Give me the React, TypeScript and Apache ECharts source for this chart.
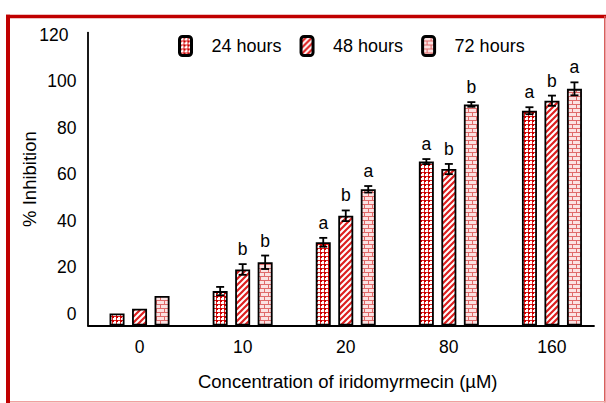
import React, { useEffect, useRef } from 'react';
import * as echarts from 'echarts';

// ---- data (bar heights in axis units; axis zero sits on the drawn baseline) ----
const categories = ['0', '10', '20', '80', '160'];
const seriesNames = ['24 hours', '48 hours', '72 hours'];
const values24 = [5.2, 14.8, 35.8, 70.5, 92.4];
const values48 = [7.2, 24.1, 47.2, 67.3, 96.7];
const values72 = [12.7, 27.2, 58.6, 95.1, 101.8];
const errors24 = [0, 1.8, 1.9, 1.1, 1.5];
const errors48 = [0, 2.3, 2.3, 2.2, 2.2];
const errors72 = [0, 2.9, 1.4, 1.0, 2.8];
const letters24 = ['', '', 'a', 'a', 'a'];
const letters48 = ['', 'b', 'b', 'b', 'b'];
const letters72 = ['', 'b', 'a', 'b', 'a'];
const yTickLabels = ['0', '20', '40', '60', '80', '100', '120'];
const Y_LABEL_SHIFT = 5; // tick labels in the original sit 5 units above their value
const Y_MAX = 126;

const FONT = 'Liberation Sans, Arial, Helvetica, sans-serif';
const BAR_WIDTH = 15;
const BAR_GAP = 0.5;

function makePattern(w: number, h: number, draw: (ctx: CanvasRenderingContext2D) => void) {
  const c = document.createElement('canvas');
  c.width = w;
  c.height = h;
  const ctx = c.getContext('2d') as CanvasRenderingContext2D;
  draw(ctx);
  return { image: c, repeat: 'repeat', imageWidth: w, imageHeight: h } as any;
}

export default function App() {
  const ref = useRef<HTMLDivElement>(null);

  useEffect(() => {
    if (!ref.current) return;
    const chart = echarts.init(ref.current, undefined, { renderer: 'svg' });

    const pat24 = makePattern(4, 4, (ctx) => {
      ctx.fillStyle = '#ffffff';
      ctx.fillRect(0, 0, 4, 4);
      ctx.fillStyle = '#e02020';
      ctx.fillRect(0, 0, 4, 1);
      ctx.fillRect(0, 0, 1, 4);
      ctx.fillStyle = '#c80000';
      ctx.fillRect(0, 0, 2, 2);
    });
    const pat48 = makePattern(6, 6, (ctx) => {
      ctx.fillStyle = '#ffffff';
      ctx.fillRect(0, 0, 6, 6);
      ctx.strokeStyle = '#dd2020';
      ctx.lineWidth = 2.2;
      ctx.beginPath();
      ctx.moveTo(-1, 7); ctx.lineTo(7, -1);
      ctx.moveTo(-4, 4); ctx.lineTo(4, -4);
      ctx.moveTo(2, 10); ctx.lineTo(10, 2);
      ctx.stroke();
    });
    const pat72 = makePattern(8, 8, (ctx) => {
      ctx.fillStyle = '#fbe2e2';
      ctx.fillRect(0, 0, 8, 8);
      ctx.fillStyle = '#e06a6a';
      ctx.fillRect(0, 0, 8, 1);
      ctx.fillRect(0, 4, 8, 1);
      ctx.fillRect(0, 0, 1, 4);
      ctx.fillRect(4, 4, 1, 4);
    });
    const patterns = [pat24, pat48, pat72];
    const valueSets = [values24, values48, values72];
    const errorSets = [errors24, errors48, errors72];
    const letterSets = [letters24, letters48, letters72];

    const rows: any[] = [];
    const rowLetters: string[] = [];
    for (let s = 0; s < 3; s++) {
      for (let c = 0; c < categories.length; c++) {
        rows.push([c, s, valueSets[s][c], errorSets[s][c]]);
        rowLetters.push(letterSets[s][c]);
      }
    }

    const barSeries = seriesNames.map((name, i) => ({
      name,
      type: 'bar',
      xAxisIndex: 1,
      yAxisIndex: 1,
      barWidth: BAR_WIDTH,
      barGap: BAR_GAP * 100 + '%',
      data: valueSets[i],
      itemStyle: { color: patterns[i], borderColor: '#000', borderWidth: 1.8 },
      silent: true,
    }));

    const option: any = {
      animation: false,
      backgroundColor: '#ffffff',
      textStyle: { fontFamily: FONT },
      graphic: [
        { type: 'line', shape: { x1: 8, y1: 14.8, x2: 8, y2: 403 }, style: { stroke: '#c00000', lineWidth: 4 } },
        { type: 'line', shape: { x1: 6, y1: 16.5, x2: 606, y2: 16.5 }, style: { stroke: '#c00000', lineWidth: 3.5 } },
        { type: 'line', shape: { x1: 604.8, y1: 16, x2: 604.8, y2: 402.5 }, style: { stroke: '#d85858', lineWidth: 1.5 } },
        { type: 'line', shape: { x1: 10, y1: 401.8, x2: 606, y2: 401.8 }, style: { stroke: '#f0a0a0', lineWidth: 1.5 } },
      ],
      legend: {
        data: seriesNames,
        left: 178,
        top: 35,
        padding: 0,
        itemWidth: 12,
        itemHeight: 19,
        itemGap: 18,
        icon: 'roundRect',
        selectedMode: false,
        itemStyle: { borderColor: '#000', borderWidth: 3 },
        textStyle: { fontSize: 18, color: '#000', fontFamily: FONT, padding: [0, 0, 0, 15] },
      },
      grid: [
        { left: 88, top: 32.6, width: 506, height: 292.9 },
        { left: 88, top: 32.6, width: 515.5, height: 292.9 },
      ],
      xAxis: [
        {
          gridIndex: 0, type: 'value', min: 0, max: 1,
          axisLine: { show: true, onZero: false, lineStyle: { color: '#000', width: 1.8 } },
          axisTick: { show: false }, axisLabel: { show: false }, splitLine: { show: false },
        },
        {
          gridIndex: 1, type: 'category', data: categories,
          axisLine: { show: false }, axisTick: { show: false }, splitLine: { show: false },
          axisLabel: { fontSize: 17.5, color: '#000', margin: 12, fontFamily: FONT },
          name: 'Concentration of iridomyrmecin (\u00b5M)',
          nameLocation: 'middle',
          nameGap: 46,
          nameMoveOverlap: false,
          nameTextStyle: { fontSize: 18.5, color: '#000', fontFamily: FONT, padding: [0, 0, 0, 4] },
        },
      ],
      yAxis: [
        {
          gridIndex: 0, type: 'value', min: 0, max: Y_MAX, interval: 5,
          axisLine: { show: true, onZero: false, lineStyle: { color: '#000', width: 1.8 } },
          axisTick: { show: false }, splitLine: { show: false },
          axisLabel: {
            fontSize: 17.5, color: '#000', margin: 11.5, fontFamily: FONT,
            formatter: (v: number) => {
              const t = Math.round(v - Y_LABEL_SHIFT);
              if (t < 0 || t % 20 !== 0) return '';
              const lab = yTickLabels[t / 20];
              if (lab === undefined) return '';
              return lab === '120' ? '{s|' + lab + '}' : lab;
            },
            rich: { s: { fontSize: 17.5, color: '#000', fontFamily: FONT, padding: [0, 8, 0, 0] } },
          },
          name: '% Inhibition',
          nameLocation: 'middle',
          nameGap: 49.5,
          nameMoveOverlap: false,
          nameRotate: 90,
          nameTextStyle: { fontSize: 18.5, color: '#000', fontFamily: FONT },
        },
        { gridIndex: 1, type: 'value', min: 0, max: Y_MAX, show: false, splitLine: { show: false } },
      ],
      series: [
        ...barSeries,
        {
          type: 'custom',
          name: 'errors',
          xAxisIndex: 1,
          yAxisIndex: 1,
          silent: true,
          z: 5,
          encode: { x: 0, y: 2 },
          data: rows,
          renderItem: (params: any, api: any) => {
            const c = api.value(0);
            const s = api.value(1);
            const v = api.value(2);
            const e = api.value(3);
            const letter = rowLetters[params.dataIndex];
            const offset = (s - 1) * BAR_WIDTH * (1 + BAR_GAP);
            const top = api.coord([c, v + e]);
            const bot = api.coord([c, v - e]);
            const x = top[0] + offset;
            const children: any[] = [];
            const ls = { stroke: '#000', lineWidth: 1.8 };
            if (e > 0) {
              children.push({ type: 'line', shape: { x1: x, y1: top[1], x2: x, y2: bot[1] }, style: ls });
              children.push({ type: 'line', shape: { x1: x - 4, y1: top[1], x2: x + 4, y2: top[1] }, style: ls });
              children.push({ type: 'line', shape: { x1: x - 4, y1: bot[1], x2: x + 4, y2: bot[1] }, style: ls });
            }
            if (letter) {
              children.push({
                type: 'text',
                x: x,
                y: top[1] - 6,
                style: {
                  text: letter, fill: '#000', fontSize: 17.5, fontFamily: FONT,
                  align: 'center', verticalAlign: 'bottom',
                },
              });
            }
            return { type: 'group', children };
          },
        },
      ],
    };

    chart.setOption(option);
    return () => chart.dispose();
  }, []);

  return (
    <div
      ref={ref}
      style={{ position: 'absolute', left: 0, top: 0, width: 606, height: 403 }}
    />
  );
}
